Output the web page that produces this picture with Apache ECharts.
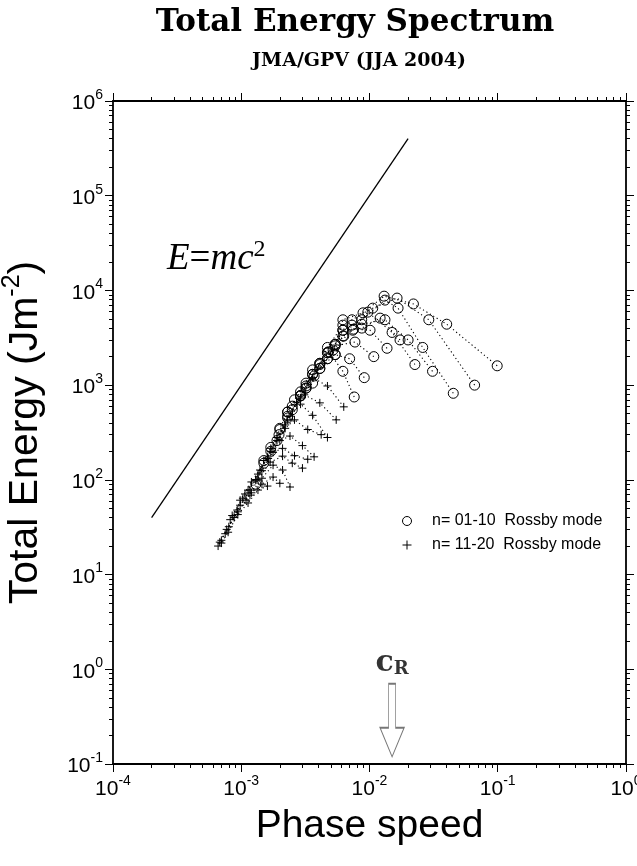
<!DOCTYPE html>
<html>
<head>
<meta charset="utf-8">
<script src="https://cdn.jsdelivr.net/npm/echarts@6/dist/echarts.min.js"></script>
<style>
  html, body { margin: 0; padding: 0; background: #fff; }
  #chart { width: 637px; height: 866px; }
</style>
</head>
<body>
<div id="chart"></div>
<script>
// [phase speed, total energy] for each dotted branch, one per meridional index n
const n01 = [[0.099,1600],[0.040,4400],[0.022,7200],[0.013,8700],[0.0089,5800],[0.0062,4900],[0.0054,2700],[0.0047,2200]];
const n02 = [[0.066,1000],[0.029,4900],[0.0164,8300],[0.0106,6500],[0.0073,4900],[0.0062,3800],[0.0047,1900],[0.0041,1500]];
const n03 = [[0.045,820],[0.026,2500],[0.0167,6500],[0.0132,7900],[0.0087,4900],[0.0073,4300],[0.0054,2100],[0.0036,1300],[0.0032,930]];
const n04 = [[0.031,1400],[0.020,3000],[0.0132,4900],[0.0087,4400],[0.0062,4300],[0.0047,2500],[0.0041,1700],[0.0036,1050],[0.0029,770]];
const n05 = [[0.0226,1650],[0.015,3600],[0.0097,5900],[0.0074,3800],[0.0063,3300],[0.0052,2350],[0.0041,1650],[0.0032,980],[0.0025,600]];
const n06 = [[0.0173,3000],[0.0121,5100],[0.0087,4000],[0.0062,3800],[0.0054,2700],[0.0041,1500],[0.0032,1050],[0.0026,700],[0.0023,520]];
const n07 = [[0.0137,2450],[0.0101,3800],[0.0075,3900],[0.0062,3300],[0.0047,1900],[0.0036,1450],[0.0029,850],[0.0023,520],[0.0020,350]];
const n08 = [[0.0108,2000],[0.0077,2850],[0.0054,2600],[0.0047,2200],[0.0036,1300],[0.0029,770],[0.0023,470],[0.00197,300],[0.0017,200]];
const n09 = [[0.0091,1200],[0.0070,1900],[0.0054,2100],[0.0041,1700],[0.0032,930],[0.0025,550],[0.0020,340],[0.0017,220],[0.0015,160]];
const n10 = [[0.0076,750],[0.0062,1400],[0.0048,2250],[0.0037,1250],[0.0029,780],[0.0023,450],[0.0019,260],[0.0015,150],[0.0013,90]];

const n11 = [[0.0063,590],[0.0047,980],[0.0036,1200],[0.0029,730],[0.0023,430],[0.0019,260],[0.0015,160],[0.0013,100]];
const n12 = [[0.0055,430],[0.0041,650],[0.0031,790],[0.0027,660],[0.0022,380],[0.0017,215],[0.0014,127],[0.00113,78]];
const n13 = [[0.0047,280],[0.0036,480],[0.0029,630],[0.0024,470],[0.0019,280],[0.0016,170],[0.0012,95],[0.00098,61]];
const n14 = [[0.0042,300],[0.0033,340],[0.0026,430],[0.0022,350],[0.0017,200],[0.00135,115],[0.00107,71],[0.00085,42]];
const n15 = [[0.0037,175],[0.0030,230],[0.0024,290],[0.0020,260],[0.00162,168],[0.0013,100],[0.00103,64],[0.00082,38]];
const n16 = [[0.0033,165],[0.0026,180],[0.0021,215],[0.00177,195],[0.00145,125],[0.00117,78],[0.00093,48],[0.00075,27]];
const n17 = [[0.0030,133],[0.0025,150],[0.0021,178],[0.00168,154],[0.00135,100],[0.00109,61],[0.00088,40],[0.0007,23]];
const n18 = [[0.0024,84],[0.0021,127],[0.00177,143],[0.00145,104],[0.00117,69],[0.00094,46],[0.00077,30],[0.00066,20]];
const n19 = [[0.0020,92],[0.00177,107],[0.00145,90],[0.0012,73],[0.00098,54],[0.0008,32],[0.00068,22]];
const n20 = [[0.0016,86],[0.00135,78],[0.00113,57],[0.00094,43],[0.00079,28],[0.0007,21.5]];

// E = mc^2 reference line
const lawSpeed = [2e-4, 2e-2];
const lawEnergy = [40, 4e5];

// c_R marker
const cRSpeed = 0.015;
const cREnergy = 0.29;

// axis ticks
const speedMajor = [1e-4, 1e-3, 1e-2, 1e-1, 1];
const energyMajor = [1e-1, 1, 1e1, 1e2, 1e3, 1e4, 1e5, 1e6];
const minorSteps = [2, 3, 4, 5, 6, 7, 8, 9];

const lowName = 'n= 01-10  Rossby mode';
const highName = 'n= 11-20  Rossby mode';
const plusPath = 'path://M0 5L10 5M5 0L5 10';

function minorsOf(majors) {
  const out = [];
  majors.slice(0, -1).forEach(m => minorSteps.forEach(k => out.push(m * k)));
  return out;
}

const supRich = {
  b: { fontFamily: 'Liberation Sans', fontSize: 21, color: '#000', lineHeight: 26, verticalAlign: 'bottom' },
  s: { fontFamily: 'Liberation Sans', fontSize: 14, color: '#000', lineHeight: 26, verticalAlign: 'top' }
};
const powLabel = v => '{b|10}{s|' + Math.round(Math.log10(v)) + '}';

function frameAxis(position, majors, minor, withLabel) {
  const ax = {
    type: 'log', logBase: 10,
    min: majors[0], max: majors[majors.length - 1],
    position: position,
    axisLine: { show: !minor, onZero: false, lineStyle: { color: '#000', width: 1.8 } },
    axisTick: {
      show: true, inside: false, length: minor ? 4 : 8,
      customValues: minor ? minorsOf(majors) : majors,
      lineStyle: { color: '#000', width: 1 }
    },
    axisLabel: { show: false },
    splitLine: { show: false }
  };
  if (withLabel) {
    ax.axisLabel = {
      show: true, customValues: majors, formatter: powLabel,
      margin: 10, rich: supRich
    };
  }
  return ax;
}

const xBottom = frameAxis('bottom', speedMajor, false, true);
xBottom.name = 'Phase speed';
xBottom.nameLocation = 'middle';
xBottom.nameGap = 43;
xBottom.nameTextStyle = { fontFamily: 'Liberation Sans', fontSize: 39, color: '#000' };

const yLeft = frameAxis('left', energyMajor, false, true);
yLeft.name = '{t|Total Energy (Jm}{s|-2}{t|)}';
yLeft.nameLocation = 'middle';
yLeft.nameGap = 67;
yLeft.nameTextStyle = {
  rich: {
    t: { fontFamily: 'Liberation Sans', fontSize: 41, color: '#000', lineHeight: 46, verticalAlign: 'bottom' },
    s: { fontFamily: 'Liberation Sans', fontSize: 25, color: '#000', lineHeight: 46, verticalAlign: 'top' }
  }
};

function modeSeries(data, name, symbol) {
  return {
    type: 'line', name: name, data: data,
    xAxisIndex: 0, yAxisIndex: 0,
    symbol: symbol, symbolSize: symbol === 'circle' ? 10 : 8,
    lineStyle: { color: '#000', width: 1.1, type: [1.2, 2.8] },
    itemStyle: { color: 'rgba(0,0,0,0)', borderColor: '#000', borderWidth: 1 },
    emphasis: { disabled: true },
    z: 3
  };
}

const series = [];
[n01, n02, n03, n04, n05, n06, n07, n08, n09, n10].forEach(d => series.push(modeSeries(d, lowName, 'circle')));
[n11, n12, n13, n14, n15, n16, n17, n18, n19, n20].forEach(d => series.push(modeSeries(d, highName, plusPath)));

series.push({
  type: 'line', name: 'law',
  data: lawSpeed.map((s, i) => [s, lawEnergy[i]]),
  symbol: 'none',
  lineStyle: { color: '#000', width: 1.3 },
  z: 2
});

series.push({
  type: 'scatter', name: 'cR',
  data: [[cRSpeed, cREnergy]],
  symbol: 'path://M8.5 0L15.5 0L15.5 44L24 44L12 73L0 44L8.5 44Z',
  symbolSize: [24, 73],
  itemStyle: { color: '#fff', borderColor: '#555', borderWidth: 1.2 },
  label: {
    show: true, position: 'top', distance: 4,
    formatter: '{c|c}{r|R}',
    rich: {
      c: { fontFamily: 'DejaVu Serif', fontWeight: 'bold', fontSize: 30, color: '#000', lineHeight: 30, verticalAlign: 'top' },
      r: { fontFamily: 'DejaVu Serif', fontWeight: 'bold', fontSize: 18, color: '#000', lineHeight: 30, verticalAlign: 'bottom' }
    }
  },
  z: 4
});

const chart = echarts.init(document.getElementById('chart'));
chart.setOption({
  animation: false,
  backgroundColor: '#fff',
  title: [
    { text: 'Total Energy Spectrum', left: 350, top: 2, textAlign: 'center',
      textStyle: { fontFamily: 'DejaVu Serif', fontWeight: 'bold', fontSize: 31, color: '#000' } },
    { text: 'JMA/GPV (JJA 2004)', left: 354, top: 47, textAlign: 'center',
      textStyle: { fontFamily: 'DejaVu Serif', fontWeight: 'bold', fontSize: 19, color: '#000' } }
  ],
  grid: { left: 113, right: 11, top: 101, bottom: 102, containLabel: false, outerBoundsMode: 'none' },
  xAxis: [
    xBottom,
    frameAxis('bottom', speedMajor, true, false),
    frameAxis('top', speedMajor, false, false),
    frameAxis('top', speedMajor, true, false)
  ],
  yAxis: [
    yLeft,
    frameAxis('left', energyMajor, true, false),
    frameAxis('right', energyMajor, false, false),
    frameAxis('right', energyMajor, true, false)
  ],
  legend: {
    orient: 'vertical', left: 397, top: 508,
    itemWidth: 40, itemHeight: 9, itemGap: 8,
    selectedMode: false,
    textStyle: { fontFamily: 'Liberation Sans', fontSize: 16, color: '#000' },
    data: [
      { name: lowName, icon: 'circle', itemStyle: { color: 'rgba(0,0,0,0)', borderColor: '#000', borderWidth: 1 } },
      { name: highName, icon: plusPath, itemStyle: { color: 'rgba(0,0,0,0)', borderColor: '#000', borderWidth: 1 } }
    ]
  },
  graphic: [{
    type: 'text', left: 167, top: 238,
    style: {
      text: '{i|E}{n|=}{i|mc}{s|2}',
      rich: {
        i: { fontFamily: 'Liberation Serif', fontStyle: 'italic', fontSize: 37, fill: '#000', lineHeight: 40, verticalAlign: 'bottom' },
        n: { fontFamily: 'Liberation Serif', fontSize: 37, fill: '#000', lineHeight: 40, verticalAlign: 'bottom' },
        s: { fontFamily: 'Liberation Serif', fontSize: 24, fill: '#000', lineHeight: 40, verticalAlign: 'top' }
      }
    }
  }],
  series: series
});
</script>
</body>
</html>
